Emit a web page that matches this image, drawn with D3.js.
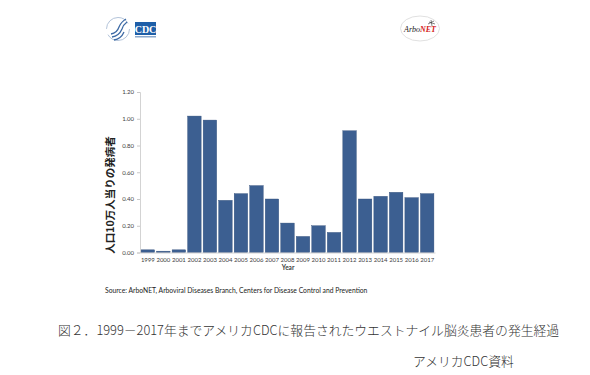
<!DOCTYPE html>
<html><head><meta charset="utf-8">
<script src="https://cdn.jsdelivr.net/npm/d3@7"></script>
<style>
html,body{margin:0;padding:0;background:#fff;}
svg{display:block;}
</style></head>
<body>
<script>
const years = ["1999","2000","2001","2002","2003","2004","2005","2006","2007","2008","2009","2010","2011","2012","2013","2014","2015","2016","2017"];
const incidence = [0.02,0.01,0.02,1.02,0.99,0.39,0.44,0.50,0.40,0.22,0.12,0.20,0.15,0.91,0.40,0.42,0.45,0.41,0.44];
const yTicks = [0,0.2,0.4,0.6,0.8,1.0,1.2];
const yLabel = "人口10万人当りの発病者";
const xLabel = "Year";
const sourceText = "Source: ArboNET, Arboviral Diseases Branch, Centers for Disease Control and Prevention";
const caption = "図２．1999－2017年までアメリカCDCに報告されたウエストナイル脳炎患者の発生経過";
const credit = "アメリカCDC資料";

const W = 590, H = 375;
const svg = d3.select("body").append("svg").attr("width", W).attr("height", H);
const sans = "Lato, 'Open Sans', sans-serif";
const jp = "'Noto Sans CJK JP', sans-serif";

const x = d3.scaleBand().domain(years).range([140, 435]).paddingInner(0.13).paddingOuter(0.07);
const y = d3.scaleLinear().domain([0, 1.2]).range([252.5, 92]);

// bars
svg.append("g").selectAll("rect").data(years).join("rect")
  .attr("x", d => x(d))
  .attr("width", x.bandwidth())
  .attr("y", (d,i) => y(incidence[i]))
  .attr("height", (d,i) => y(0) - y(incidence[i]))
  .attr("fill", "#3c5f91")
  .attr("stroke", "#2e4c78")
  .attr("stroke-width", 0.4);

// y axis
const ya = svg.append("g").attr("transform", "translate(140,0)")
  .call(d3.axisLeft(y).tickValues(yTicks).tickFormat(d3.format(".2f")).tickSize(3).tickPadding(3));
ya.select(".domain").attr("stroke", "#c8c8c8").attr("stroke-width", 0.8);
ya.selectAll(".tick line").attr("stroke", "#c8c8c8");
ya.selectAll("text").attr("font-family", sans).attr("font-size", 6).attr("fill", "#404040");

// x axis
const xa = svg.append("g").attr("transform", `translate(0,${y(0)})`)
  .call(d3.axisBottom(x).tickSize(0).tickPadding(5));
xa.select(".domain").attr("stroke", "#c8c8c8").attr("stroke-width", 0.8);
xa.selectAll("text").attr("font-family", sans).attr("font-size", 6).attr("fill", "#404040");

svg.append("text").attr("x", 288).attr("y", 270).attr("text-anchor", "middle")
  .attr("font-family", sans).attr("font-size", 6.5).attr("font-weight", "bold").attr("fill", "#404040")
  .text(xLabel);

svg.append("text").attr("transform", "translate(114,195) rotate(-90)").attr("text-anchor", "middle")
  .attr("font-family", jp).attr("font-size", 10.5).attr("font-weight", "bold").attr("fill", "#222")
  .text(yLabel);

// source
svg.append("text").attr("x", 105).attr("y", 293)
  .attr("font-family", sans).attr("font-size", 6.75).attr("fill", "#222")
  .text(sourceText);

// caption
svg.append("text").attr("x", 58).attr("y", 335)
  .attr("font-family", jp).attr("font-size", 12.8).attr("font-weight", 300).attr("fill", "#333")
  .text(caption);
svg.append("text").attr("x", 413).attr("y", 366)
  .attr("font-family", jp).attr("font-size", 12.8).attr("font-weight", 300).attr("fill", "#333")
  .text(credit);

// logos (decorative)
const lg = svg.append("g");
lg.append("circle").attr("cx", 118).attr("cy", 29).attr("r", 11.5)
  .attr("fill", "none").attr("stroke", "#9fb4cf").attr("stroke-width", 0.8).attr("stroke-dasharray", "30 6");
lg.append("path").attr("d", "M111,34 Q117,33 119,27 Q121,22 126,19 M112,37 Q119,36 122,29 Q123,25 127,22 M114,40 Q121,39 124,32")
  .attr("fill", "none").attr("stroke", "#3d6aa5").attr("stroke-width", 1.3);
lg.append("rect").attr("x", 135).attr("y", 22).attr("width", 21).attr("height", 13).attr("fill", "#1f5fa8");
lg.append("text").attr("x", 145.5).attr("y", 32.5).attr("text-anchor", "middle")
  .attr("font-family", "'Liberation Serif', serif").attr("font-size", 10).attr("font-weight", "bold").attr("fill", "#fff").text("CDC");
lg.append("rect").attr("x", 135).attr("y", 36).attr("width", 21).attr("height", 1.5).attr("fill", "#8aa8cc");

lg.append("ellipse").attr("cx", 420).attr("cy", 28.5).attr("rx", 19.5).attr("ry", 12.5)
  .attr("fill", "#fff").attr("stroke", "#d8d8d8").attr("stroke-width", 0.8);
const at = lg.append("text").attr("x", 420).attr("y", 31.5).attr("text-anchor", "middle")
  .attr("font-family", "'Liberation Serif', serif").attr("font-size", 8).attr("font-style", "italic");
at.append("tspan").attr("fill", "#222").text("Arbo");
at.append("tspan").attr("fill", "#d42020").attr("font-weight", "bold").text("NET");
lg.append("path").attr("d", "M428,24 L434,21 M431,20 L432,26 M429,22 L435,24").attr("stroke", "#333").attr("stroke-width", 0.6);
</script>
</body></html>
